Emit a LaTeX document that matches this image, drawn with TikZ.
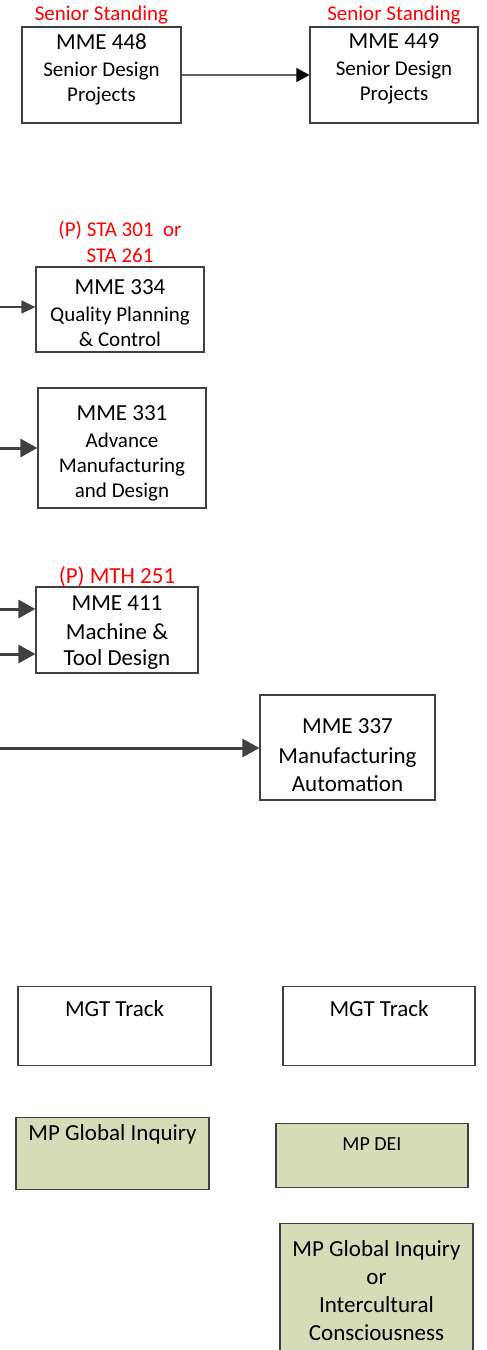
\documentclass[tikz,border=0pt]{standalone}
\usepackage{fontspec}
\setmainfont{Carlito}
\usepackage{xcolor}
\usetikzlibrary{positioning,arrows.meta}

\definecolor{boxline}{HTML}{404040}
\definecolor{linegray}{HTML}{606060}
\definecolor{mpgreen}{RGB}{214,220,184}

\tikzset{
    course/.style={draw=boxline, line width=1.2pt, align=center, inner sep=0pt,
        font=\fontsize{21}{25}\selectfont},
    prereq/.style={text=red, align=center, inner sep=0pt,
        font=\fontsize{21}{26}\selectfont},
    elective/.style={draw=boxline, line width=1.2pt, anchor=north, inner sep=0pt,
        font=\fontsize{23}{28}\selectfont},
    thinarrow/.style={draw=boxline, line width=1.2pt,
        -{Triangle[length=14pt,width=13pt]}},
    thickarrow/.style={draw=boxline, line width=3pt,
        -{Triangle[length=17pt,width=18pt]}}
}
\newcommand{\ctitle}[1]{{\fontsize{23}{28}\selectfont #1}}

\begin{document}
\begin{tikzpicture}[x=1pt, y=-1pt]
    \clip (0,0) rectangle (487,1350);

    % senior design
    \node[course, minimum width=159pt, minimum height=96pt] (m448) at (101.5,75) {\ctitle{MME 448}\\[2pt] Senior Design\\ Projects\rule[-15pt]{0pt}{0pt}};
    \node[course, minimum width=168pt, minimum height=96pt] (m449) at (394,75) {\ctitle{MME 449}\\[2pt] Senior Design\\ Projects\rule[-15pt]{0pt}{0pt}};
    \node[prereq, above=2pt of m448] (ss448) {Senior Standing};
    \node[prereq, above=2pt of m449] (ss449) {Senior Standing};
    \draw[draw=linegray, line width=1.2pt, -{Triangle[length=13pt,width=14pt,black]}] (m448) -- (m449);

    % quality
    \node[course, minimum width=168pt, minimum height=85pt] (m334) at (120,309.5) {\rule{0pt}{22pt}\ctitle{MME 334}\\[2pt] Quality Planning\\ \& Control};
    \node[prereq, above=4pt of m334] (p334) {(P) STA 301~ or\\ STA 261};
    \coordinate (in334) at (0,307);
    \draw[thinarrow] (in334) -- (in334 -| m334.west);

    % manufacturing
    \node[course, minimum width=168pt, minimum height=120pt] (m331) at (122,448) {\rule{0pt}{25pt}\ctitle{MME 331}\\[2pt] Advance\\ Manufacturing\\ and Design};
    \coordinate (in331) at (0,448);
    \draw[thickarrow] (in331) -- (in331 -| m331.west);

    \node[course, font=\fontsize{23}{26}\selectfont, minimum width=162pt, minimum height=86pt] (m411) at (117,630) {\rule{0pt}{20pt}MME 411\\[3pt] Machine \&\\ Tool Design};
    \node[prereq, font=\fontsize{23}{28}\selectfont, above=0pt of m411] (p411) {(P) MTH 251};
    \coordinate (in411a) at (0,609);
    \coordinate (in411b) at (0,654);
    \draw[thickarrow] (in411a) -- (in411a -| m411.west);
    \draw[thickarrow] (in411b) -- (in411b -| m411.west);

    \node[course, font=\fontsize{23}{28}\selectfont, minimum width=175pt, minimum height=105pt] (m337) at (347.5,747.5) {\rule{0pt}{30pt}MME 337\\[2pt] Manufacturing\\ Automation};
    \coordinate (in337) at (0,748);
    \draw[thickarrow] (in337) -- (in337 -| m337.west);

    % electives
    \node[elective, minimum width=193pt, text height=29.5pt, text depth=49.5pt] (mgt1) at (114.5,986) {MGT Track};
    \node[elective, minimum width=192pt, text height=29.5pt, text depth=49.5pt] (mgt2) at (379,986) {MGT Track};

    \node[elective, fill=mpgreen, minimum width=193pt, text height=22.5pt, text depth=49.5pt] (mpgi) at (112.5,1117) {MP Global Inquiry};
    \node[elective, fill=mpgreen, font=\fontsize{20}{24}\selectfont, minimum width=192pt, text height=27pt, text depth=37pt] (mpdei) at (372,1123) {MP DEI};
    \node[elective, fill=mpgreen, align=center, minimum width=193pt, minimum height=134pt] (mpic) at (376.5,1223) {MP Global Inquiry\\ or\\ Intercultural\\ Consciousness};
\end{tikzpicture}
\end{document}
